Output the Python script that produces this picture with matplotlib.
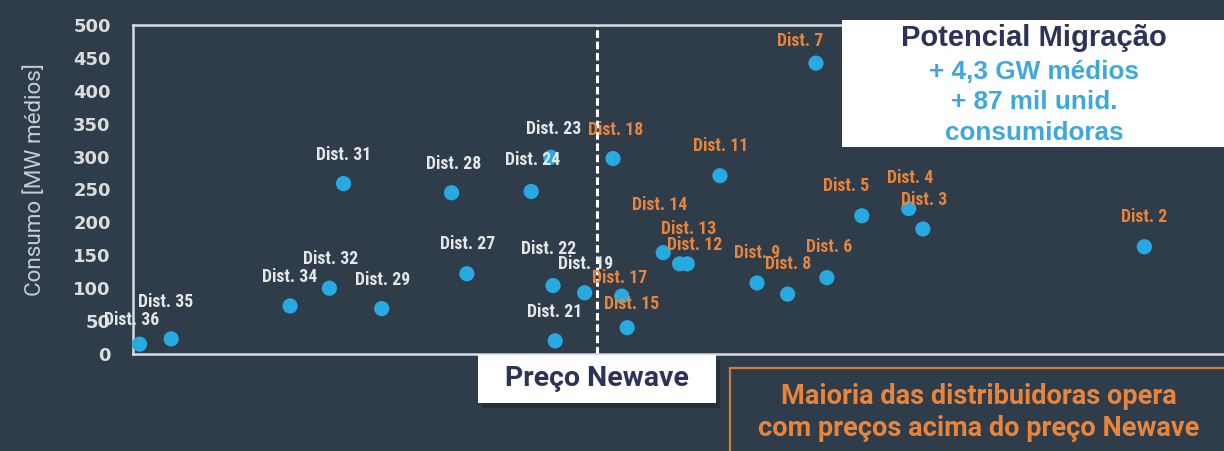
import matplotlib
matplotlib.use("Agg")
import matplotlib.pyplot as plt
from matplotlib import font_manager as fm
from matplotlib.patches import Rectangle

# distribuidoras: preço médio (escala relativa) x consumo [MW médios]
dist_names = ["Dist. 36", "Dist. 35", "Dist. 34", "Dist. 32", "Dist. 29", "Dist. 31",
              "Dist. 28", "Dist. 27", "Dist. 24", "Dist. 23", "Dist. 22", "Dist. 19",
              "Dist. 21", "Dist. 18", "Dist. 17", "Dist. 15", "Dist. 14", "Dist. 13",
              "Dist. 12", "Dist. 11", "Dist. 9", "Dist. 8", "Dist. 6", "Dist. 7",
              "Dist. 5", "Dist. 4", "Dist. 3", "Dist. 2"]
preco = [0.6, 3.5, 14.4, 18.0, 22.8, 19.3,
         29.2, 30.6, 36.5, 38.3, 38.5, 41.4,
         38.7, 44.0, 44.8, 45.3, 48.6, 50.1,
         50.8, 53.8, 57.2, 60.0, 63.6, 62.6,
         66.8, 71.1, 72.4, 92.7]
consumo = [15, 23, 73, 100, 69, 259,
           245, 122, 247, 299, 104, 93,
           20, 297, 88, 40, 154, 137,
           137, 271, 108, 91, 116, 442,
           210, 221, 190, 163]
preco_newave = 42.5

yticks = list(range(0, 501, 50))

# deslocamento dos rótulos (pixels) para evitar sobreposição
label_offsets = [(-8, 24), (-6, 37), (0, 29), (1, 29), (1, 29), (0, 29),
                 (2, 29), (1, 30), (1, 31), (3, 28), (-4, 37), (1, 29),
                 (-1, 29), (3, 29), (-2, 18), (4, 24), (-4, 48), (9, 35),
                 (7, 19), (1, 30), (0, 30), (1, 30), (2, 31), (-16, 22),
                 (-16, 30), (1, 31), (1, 29), (0, 30)]

BG = "#2e3d49"
BLUE = "#27a9e1"
ORANGE = "#e8843c"
NAVY = "#2a3458"
LIGHT = "#e6e6e6"

# fonte estreita disponível (senão Roboto)
_names = {f.name for f in fm.fontManager.ttflist}
NARROW = next((n for n in ["Liberation Sans Narrow", "Roboto Condensed",
                           "Arial Narrow", "Open Sans Condensed"] if n in _names),
              "Roboto")

W, H = 1224, 451
fig = plt.figure(figsize=(W / 100, H / 100), dpi=100, facecolor=BG)


def fx(px):
    return px / W


def fy(py):
    return 1 - py / H


ax = fig.add_axes([fx(133), fy(354), fx(1224 - 133), (354 - 25) / H])
ax.set_facecolor(BG)
ax.set_xlim(0, 100)
ax.set_ylim(0, 500)
ax.set_xticks([])
ax.set_yticks(yticks)
ax.set_yticklabels([str(v) for v in yticks], color="#dcdcdc", fontsize=13,
                   family="DejaVu Sans", fontweight="bold")
ax.tick_params(axis="y", length=0, pad=16)
for side in ["left", "top", "bottom"]:
    ax.spines[side].set_color("#d9dde0")
    ax.spines[side].set_linewidth(1.8)
ax.spines["right"].set_visible(False)

ax.axvline(preco_newave, color="white", lw=2.2, ls=(0, (2.5, 1.2)), zorder=2)

ax.scatter(preco, consumo, s=120, color=BLUE, edgecolors="none", zorder=3,
           clip_on=False)

for name, x, y, off in zip(dist_names, preco, consumo, label_offsets):
    col = ORANGE if x > preco_newave else LIGHT
    ax.annotate(name, (x, y), xytext=off, textcoords="offset pixels",
                ha="center", va="center", fontsize=12.8, fontweight="bold",
                family=NARROW, color=col, zorder=4)

fig.text(fx(35), fy(180), "Consumo [MW médios]", rotation=90, ha="center",
         va="center", fontsize=16.2, color="#c9cdd0", family="Roboto")

# caixa: potencial de migração
fig.add_artist(Rectangle((fx(842), fy(147)), fx(400), 127 / H,
                         transform=fig.transFigure, facecolor="white",
                         edgecolor="none", zorder=5))
fig.text(fx(1034), fy(38), "Potencial Migração", ha="center", va="center",
         fontsize=21, fontweight="bold", color=NAVY, zorder=6,
         family="Liberation Sans")
for ypx, txt in [(72, "+ 4,3 GW médios"), (102, "+ 87 mil unid."),
                 (133, "consumidoras")]:
    fig.text(fx(1034), fy(ypx), txt, ha="center", va="center", fontsize=18.8,
             fontweight="bold", color="#3ea8dd", zorder=6,
             family="Liberation Sans")

# caixa: preço Newave
fig.add_artist(Rectangle((fx(482), fy(408)), fx(238), 48 / H,
                         transform=fig.transFigure, facecolor="#1c262e",
                         alpha=0.5, edgecolor="none", zorder=5))
fig.add_artist(Rectangle((fx(478), fy(403)), fx(238), 48 / H,
                         transform=fig.transFigure, facecolor="white",
                         edgecolor="none", zorder=5))
fig.text(fx(597), fy(379), "Preço Newave", ha="center", va="center",
         fontsize=20.5, fontweight="bold", color=NAVY, zorder=6, family="Roboto")

# caixa: observação
fig.add_artist(Rectangle((fx(730), fy(470)), fx(520), 102 / H,
                         transform=fig.transFigure, facecolor="none",
                         edgecolor="#d27a3a", lw=1.6, zorder=5))
fig.text(fx(979), fy(397), "Maioria das distribuidoras opera", ha="center",
         va="center", fontsize=19.5, fontweight="bold", color=ORANGE, zorder=6,
         family="Roboto")
fig.text(fx(979), fy(428), "com preços acima do preço Newave", ha="center",
         va="center", fontsize=19.5, fontweight="bold", color=ORANGE, zorder=6,
         family="Roboto")

fig.savefig("out.png", dpi=100, facecolor=BG)
